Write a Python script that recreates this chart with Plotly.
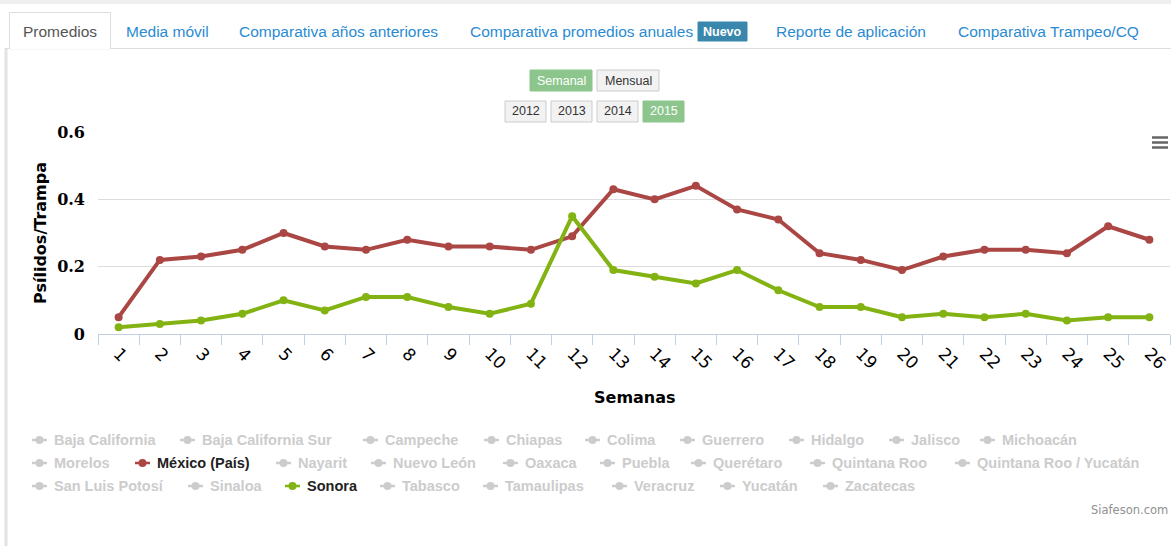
import plotly.graph_objects as go

# ---------------- data ----------------
semanas = [str(i) for i in range(1, 27)]
mexico = [0.05, 0.22, 0.23, 0.25, 0.30, 0.26, 0.25, 0.28, 0.26, 0.26, 0.25, 0.29, 0.43,
          0.40, 0.44, 0.37, 0.34, 0.24, 0.22, 0.19, 0.23, 0.25, 0.25, 0.24, 0.32, 0.28]
sonora = [0.02, 0.03, 0.04, 0.06, 0.10, 0.07, 0.11, 0.11, 0.08, 0.06, 0.09, 0.35, 0.19,
          0.17, 0.15, 0.19, 0.13, 0.08, 0.08, 0.05, 0.06, 0.05, 0.06, 0.04, 0.05, 0.05]
y_ticks = [0, 0.2, 0.4, 0.6]
y_ticktext = ["0", "0.2", "0.4", "0.6"]

legend_rows = [
    ["Baja California", "Baja California Sur", "Campeche", "Chiapas", "Colima",
     "Guerrero", "Hidalgo", "Jalisco", "Michoacán"],
    ["Morelos", "México (País)", "Nayarit", "Nuevo León", "Oaxaca", "Puebla",
     "Querétaro", "Quintana Roo", "Quintana Roo / Yucatán"],
    ["San Luis Potosí", "Sinaloa", "Sonora", "Tabasco", "Tamaulipas", "Veracruz",
     "Yucatán", "Zacatecas"],
]
tabs = ["Promedios", "Media móvil", "Comparativa años anteriores",
        "Comparativa promedios anuales", "Reporte de aplicación", "Comparativa Trampeo/CQ"]
periodos = ["Semanal", "Mensual"]
anios = ["2012", "2013", "2014", "2015"]

# ---------------- layout helpers ----------------
W, H = 1171, 546
L, R, T, B = 98, 1170, 132, 334
RED = "#AA4643"
GREEN = "#82b312"
BTN_GREEN = "#8cc68c"


def px(x):
    return (x - L) / (R - L)


def py(y):
    return (B - y) / (B - T)


fig = go.Figure()
fig.add_trace(go.Scatter(x=semanas, y=mexico, name="México (País)", mode="lines+markers",
                         line=dict(color=RED, width=4), marker=dict(size=8, color=RED)))
fig.add_trace(go.Scatter(x=semanas, y=sonora, name="Sonora", mode="lines+markers",
                         line=dict(color=GREEN, width=4), marker=dict(size=8, color=GREEN)))

shapes = []
ann = []


def text(x, y, t, size, color, family="Liberation Sans, Arial", xanchor="center", **kw):
    ann.append(dict(x=px(x), y=py(y), xref="paper", yref="paper", text=t, showarrow=False,
                    xanchor=xanchor, yanchor="middle", font=dict(family=family, size=size, color=color), **kw))


# page frame
shapes.append(dict(type="rect", xref="paper", yref="paper", x0=px(0), x1=px(W), y0=py(0), y1=py(4),
                   fillcolor="#eeeeee", line=dict(width=0), layer="below"))
shapes.append(dict(type="line", xref="paper", yref="paper", x0=px(6), x1=px(6), y0=py(48), y1=py(H),
                   line=dict(color="#e2e2e2", width=3), layer="below"))
shapes.append(dict(type="line", xref="paper", yref="paper", x0=px(6), x1=px(W), y0=py(48.5), y1=py(48.5),
                   line=dict(color="#dddddd", width=1), layer="below"))
# active tab box
shapes.append(dict(type="rect", xref="paper", yref="paper", x0=px(9.5), x1=px(110.5), y0=py(49), y1=py(12.5),
                   fillcolor="white", line=dict(color="#dddddd", width=1), layer="below"))
shapes.append(dict(type="line", xref="paper", yref="paper", x0=px(10), x1=px(110), y0=py(48.5), y1=py(48.5),
                   line=dict(color="white", width=2), layer="below"))

tab_centers = [60, 167, 338, 581, 851, 1048]
for i, t in enumerate(tabs):
    color = "#555555" if i == 0 else "#2a8bd3"
    if i == 3:
        text(695, 31, t, 15.5, color, xanchor="right")
    else:
        text(tab_centers[i], 31, t, 15.5, color)
# "Nuevo" badge
shapes.append(dict(type="rect", xref="paper", yref="paper", x0=px(698), x1=px(747), y0=py(41), y1=py(22),
                   fillcolor="#3a87ad", line=dict(color="#3a87ad", width=1), layer="below"))
text(722.5, 31.5, "<b>Nuevo</b>", 12.5, "white")


# buttons
def button(x0, x1, y0, y1, label, active):
    fill = BTN_GREEN if active else "#f2f2f2"
    border = BTN_GREEN if active else "#cccccc"
    shapes.append(dict(type="rect", xref="paper", yref="paper", x0=px(x0), x1=px(x1), y0=py(y1), y1=py(y0),
                       fillcolor=fill, line=dict(color=border, width=1), layer="below"))
    text((x0 + x1) / 2, (y0 + y1) / 2, label, 12.5, "white" if active else "#333333")


button(530, 592, 70, 91, periodos[0], True)
button(597, 659, 70, 91, periodos[1], False)
yr_x = [(505, 546), (551, 592), (597, 638), (643, 684)]
for i, a in enumerate(anios):
    button(yr_x[i][0], yr_x[i][1], 101, 122, a, i == 3)

# menu icon
for yy in (137.5, 142.5, 147.5):
    shapes.append(dict(type="line", xref="paper", yref="paper", x0=px(1152), x1=px(1168), y0=py(yy), y1=py(yy),
                       line=dict(color="#666666", width=2.5)))

# axis titles
text(40, 233, "<b>Psílidos/Trampa</b>", 16, "black", family="DejaVu Sans", textangle=-90)
text(635, 397, "<b>Semanas</b>", 16, "black", family="DejaVu Sans")

# custom legend
legend_starts = [
    [52, 200, 383, 504, 605, 700, 809, 909, 1000],
    [52, 155, 296, 391, 523, 620, 711, 830, 975],
    [52, 208, 305, 400, 503, 632, 740, 843],
]
row_y = [440, 463, 486]
active = {"México (País)": RED, "Sonora": GREEN}
for r, names in enumerate(legend_rows):
    for j, nm in enumerate(names):
        x0 = legend_starts[r][j]
        yy = row_y[r]
        col = active.get(nm, "#cccccc")
        tcol = "#222222" if nm in active else "#cccccc"
        shapes.append(dict(type="line", xref="paper", yref="paper", x0=px(x0 - 20), x1=px(x0 - 5),
                           y0=py(yy), y1=py(yy), line=dict(color=col, width=2.5)))
        shapes.append(dict(type="circle", xref="paper", yref="paper", x0=px(x0 - 16.5), x1=px(x0 - 8.5),
                           y0=py(yy - 4), y1=py(yy + 4), fillcolor=col, line=dict(color=col, width=0)))
        text(x0, yy, "<b>" + nm + "</b>", 14.5, tcol, xanchor="left",
             family="Liberation Sans Narrow, Arial Narrow, Liberation Sans")

text(1170, 510, "Siafeson.com", 11.5, "#909090", family="DejaVu Sans", xanchor="right")

fig.update_layout(
    width=W, height=H, autosize=False,
    margin=dict(l=L, r=W - R, t=T, b=H - B, pad=0),
    paper_bgcolor="white", plot_bgcolor="white",
    showlegend=False,
    shapes=shapes, annotations=ann,
    xaxis=dict(type="category", range=[-0.5, 25.5], showgrid=False, zeroline=False,
               showline=True, linecolor="#C0D0E0", linewidth=1,
               ticks="outside", tickson="boundaries", ticklen=10, tickcolor="#C0D0E0", tickwidth=1,
               tickangle=45, ticklabelstandoff=2,
               tickfont=dict(family="DejaVu Sans", size=17, color="black")),
    yaxis=dict(range=[0, 0.6], tickvals=y_ticks, ticktext=y_ticktext, showgrid=True,
               gridcolor="#dcdcdc", gridwidth=1, zeroline=False, showline=False,
               ticklabelstandoff=12,
               tickfont=dict(family="DejaVu Serif", size=16, color="black", weight="bold")),
)

fig.write_html("out.html", config={"displayModeBar": False},
               post_script="document.body.style.margin='0px';document.body.style.overflow='hidden';")
